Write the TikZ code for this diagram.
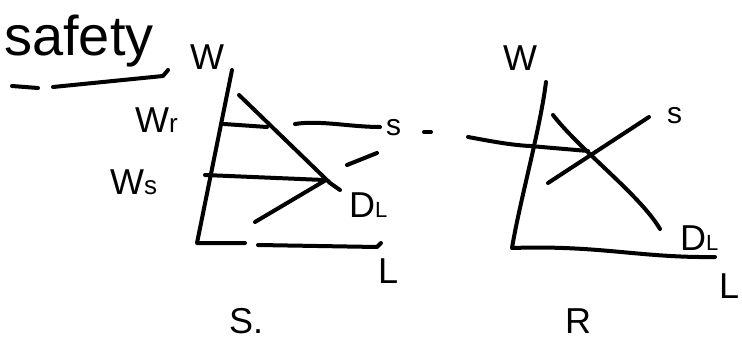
\documentclass[tikz,border=0pt]{standalone}
\usepackage{fontspec}
\setmainfont{Liberation Sans}
\begin{document}
\begin{tikzpicture}[x=1pt,y=-1pt,
  pen/.style={line width=4pt,line cap=round,line join=round,black},
  lbl/.style={inner sep=0pt,font=\fontsize{36}{36}\selectfont},
  small/.style={inner sep=0pt,font=\fontsize{30}{30}\selectfont}]
\useasboundingbox (0,0) rectangle (742,342);
\fill[white] (0,0) rectangle (742,342);
% ---------- title ----------
\node[inner sep=0pt,font=\fontsize{56}{56}\selectfont,anchor=base west] (title) at (4,56) {safety};
\coordinate (u1) at (53,87); \coordinate (u2) at (163,76); \coordinate (u3) at (168,70);
\coordinate (m1) at (12,86); \coordinate (m2) at (38,88);
\draw[pen] (u1) -- (u2) -- (u3);
\draw[pen] (m1) -- (m2);
% ---------- left graph (S.) ----------
\coordinate (lw0) at (232,70);
\coordinate (lo) at (197,243);
\coordinate (lx1) at (245,243);
\coordinate (lx2) at (258,245);
\coordinate (lx3) at (377,247);
\coordinate (lx4) at (381,243);
\draw[pen] (lw0) -- (lo) -- (lx1);
\draw[pen] (lx2) -- (lx3) -- (lx4);
\coordinate (wr1) at (224,124); \coordinate (wr2) at (267,127);
\draw[pen] (wr1) -- (wr2);
\coordinate (ws1) at (205,175); \coordinate (ws2) at (324,180);
\draw[pen] (ws1) -- (ws2);
\coordinate (ld1) at (239,95); \coordinate (ld2) at (330,183); \coordinate (ld3) at (340,190);
\draw[pen] (ld1) -- (ld2) -- (ld3);
\coordinate (ls1) at (255,222); \coordinate (ls2) at (326,180);
\draw[pen] (ls1) -- (ls2);
\coordinate (ls3) at (347,165); \coordinate (ls4) at (377,153);
\draw[pen] (ls3) -- (ls4);
\coordinate (lt1) at (295,124); \coordinate (lt2) at (380,127);
\draw[pen] (lt1) .. controls (320,120) and (350,127) .. (lt2);
\coordinate (dd1) at (424,132); \coordinate (dd2) at (431,132);
\draw[pen] (dd1) -- (dd2);
\node[lbl,anchor=base west] (lW) at (190,70) {W};
\node[lbl,anchor=base west] (lWr) at (135,133) {W\fontsize{26}{26}\selectfont r};
\node[lbl,anchor=base west] (lWs) at (110,194) {W\fontsize{26}{26}\selectfont s};
\node[small,anchor=base west] (lS) at (386,136) {s};
\node[lbl,anchor=base west] (lD) at (349,218) {D\fontsize{22}{22}\selectfont L};
\node[lbl,anchor=base west] (lL) at (378,283) {L};
\node[lbl,anchor=base west] (lname) at (229,333) {S.};
% ---------- right graph (R) ----------
\coordinate (rw0) at (546,82);
\coordinate (ro) at (512,248);
\coordinate (rx) at (715,257);
\draw[pen] (rw0) .. controls (540,130) and (520,200) .. (ro) .. controls (600,245) and (640,258) .. (rx);
\coordinate (rd1) at (553,115); \coordinate (rd2) at (660,229);
\draw[pen] (rd1) .. controls (580,150) and (640,195) .. (rd2);
\coordinate (rs1) at (548,183); \coordinate (rs2) at (649,117);
\draw[pen] (rs1) -- (rs2);
\coordinate (rh1) at (468,137); \coordinate (rh2) at (530,146); \coordinate (rh3) at (588,151);
\draw[pen] (rh1) .. controls (490,141) and (510,145) .. (rh2) -- (rh3);
\node[lbl,anchor=base west] (rW) at (503,71) {W};
\node[small,anchor=base west] (rS) at (667,124) {s};
\node[lbl,anchor=base west] (rD) at (680,250) {D\fontsize{22}{22}\selectfont L};
\node[lbl,anchor=base west] (rL) at (719,298) {L};
\node[lbl,anchor=base west] (rname) at (565,333) {R};
\end{tikzpicture}
\end{document}
